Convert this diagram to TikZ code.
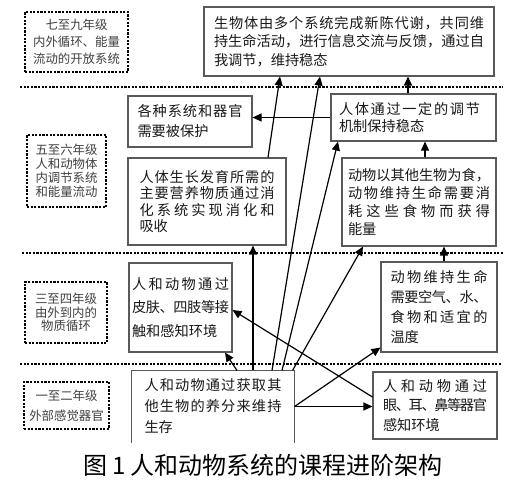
\documentclass[tikz,border=0pt]{standalone}
\usepackage{fontspec}
\setmainfont{Noto Sans CJK SC}
\usetikzlibrary{arrows.meta}
\makeatletter
% spread (or squeeze) one line of CJK text to a given width
\newcommand{\sline}[2][\linewidth]{\makebox[#1][s]{\@tfor\sl@ch:=#2\do{\sl@ch\hskip 0pt plus 1fil minus 2pt}\unskip}}
\makeatother

\begin{document}
\begin{tikzpicture}[x=1pt, y=-1pt,
    grade/.style={draw=black, line width=2.4pt, dash pattern=on 2.2pt off 1.4pt,
                  align=center, text=black!75, inner sep=0pt,
                  font=\fontsize{12.4}{#1}\selectfont},
    grade/.default=17,
    stage/.style={draw=black!65, line width=1.1pt, fill=white, align=left,
                  text=black!90, inner sep=0pt,
                  font=\fontsize{14.2}{#1}\selectfont},
    stage/.default=19,
    divider/.style={line width=2.2pt, dash pattern=on 2.2pt off 1.4pt},
    arr/.style={-{Triangle[length=9pt,width=8pt]}, line width=1.2pt}]
  \useasboundingbox[fill=white] (0,0) rectangle (513,481);
  % grade bands
  \draw[divider] (20,87) -- (503,87);
  \draw[divider] (22,253) -- (503,253);
  \draw[divider] (20,364) -- (501,364);
  \node[grade=17, minimum width=103pt, minimum height=60pt] (g79) at (76.5,42)
    {七至九年级\\内外循环、能量\\流动的开放系统};
  \node[grade=14, minimum width=79pt, minimum height=72pt] (g56) at (66.5,171)
    {五至六年级\\人和动物体\\内调节系统\\和能量流动};
  \node[grade=13.5, minimum width=82pt, minimum height=61pt] (g34) at (66,312.5)
    {三至四年级\\由外到内的\\物质循环};
  \node[grade=20, minimum width=85pt, minimum height=47pt] (g12) at (66.5,405.5)
    {一至二年级\\外部感觉器官};
  % stage boxes
  \node[stage=18.5, minimum width=290pt, minimum height=69pt, text width=270pt] (meta) at (349,41.5)
    {\sline{生物体由多个系统完成新陈代谢，共同维}\\
     \sline{持生命活动，进行信息交流与反馈，通过自}\\
     我调节，维持稳态};
  \node[stage=20, minimum width=124pt, minimum height=51pt, text width=105pt] (protect) at (190,121.5)
    {\sline{各种系统和器官}\\需要被保护};
  \node[stage=16.5, minimum width=165pt, minimum height=47pt, text width=149pt] (steady) at (413.5,117.5)
    {\sline[141pt]{人体通过一定的调节}\\机制保持稳态};
  \node[stage=16.5, minimum width=158pt, minimum height=87pt, text width=135pt] (digest) at (207,201.5)
    {\sline{人体生长发育所需的}\\\sline{主要营养物质通过消}\\\sline{化系统实现消化和}\\吸收};
  \node[stage=18, minimum width=154pt, minimum height=88pt, text width=142pt] (energy) at (419,202)
    {\sline{动物以其他生物为食，}\\\sline{动物维持生命需要消}\\\sline{耗这些食物而获得}\\能量};
  \node[stage=23.5, minimum width=103pt, minimum height=89pt, text width=97pt] (touch) at (180.5,307.5)
    {\sline{人和动物通过}\\\sline{皮肤、四肢等接}\\触和感知环境};
  \node[stage=20, minimum width=116pt, minimum height=90pt, text width=97pt] (needs) at (439,307)
    {\sline{动物维持生命}\\\sline{需要空气、水、}\\\sline{食物和适宜的}\\温度};
  \node[stage=21, draw=none, minimum width=162pt, minimum height=71pt, text width=137pt] (nourish) at (213,406.5)
    {\sline{人和动物通过获取其}\\\sline{他生物的养分来维持}\\生存};
  \draw[draw=black!65, line width=1.1pt] (nourish.south west) -- (nourish.north west)
    -- (nourish.north east) -- (nourish.south east);
  \node[stage=19.5, minimum width=124pt, minimum height=67pt, text width=104pt] (senses) at (435,405.5)
    {\sline{人和动物通过}\\\sline{眼、耳、鼻等器官}\\感知环境};
  % progression arrows
  \draw[arr] (steady.west) -- (steady.west -| protect.east);
  \draw[arr] ([xshift=-5.5pt]steady.north) -- ([xshift=-5.5pt]steady.north |- meta.south);
  \draw[arr] ([xshift=6pt]energy.north) -- ([xshift=6pt]energy.north |- steady.south);
  \draw[arr] ([xshift=5pt]needs.north) -- ([xshift=5pt]needs.north |- energy.south);
  \draw[arr] ([xshift=61pt]digest.north) -- ([xshift=-69pt]meta.south);
  \draw[arr] ([xshift=40pt]nourish.north) -- ([xshift=40pt]nourish.north |- digest.south);
  \draw[arr] ([xshift=24pt]nourish.north) -- ([xshift=44.5pt]touch.south);
  \draw[arr] ([xshift=59pt]nourish.north) -- ([xshift=-29pt]meta.south);
  \draw[arr] ([xshift=69pt]nourish.north) -- ([xshift=-75.5pt]steady.south);
  \draw[arr] ([xshift=-2pt]nourish.north east) -- ([xshift=-56pt]energy.south);
  \draw[arr] (nourish.east) -- ([yshift=5pt]needs.south west);
  \draw[arr] (nourish.east) -- (nourish.east -| senses.west);
  \draw[arr] ([yshift=8.5pt]senses.west) -- ([yshift=-2.5pt]touch.east);
  \node[font=\fontsize{24}{28}\selectfont] (caption) at (263,465)
    {图\hspace{5pt}1\hspace{5pt}人和动物系统的课程进阶架构};
\end{tikzpicture}
\end{document}
